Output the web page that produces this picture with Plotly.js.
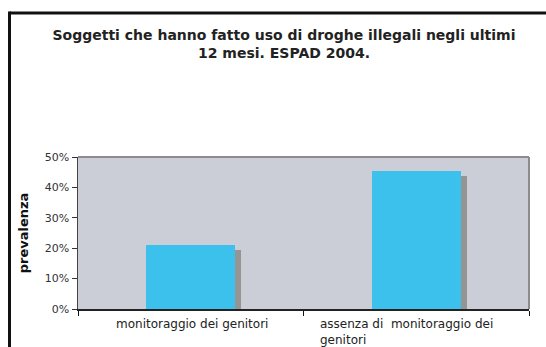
<!DOCTYPE html>
<html><head><meta charset="utf-8">
<script src="https://cdn.plot.ly/plotly-3.0.1.min.js"></script>
<style>html,body{margin:0;padding:0;background:#fff;}#c{width:546px;height:347px;}</style>
</head><body><div id="c"></div>
<script>
const categories = ["monitoraggio dei genitori", "assenza di  monitoraggio dei<br>genitori"];
const values = [0.211, 0.453];
const yTicks = [0, 0.1, 0.2, 0.3, 0.4, 0.5];
const titleText = "Soggetti che hanno fatto uso di droghe illegali negli ultimi<br>12 mesi. ESPAD 2004.";
const yTitle = "prevalenza";

const L = 78, R = 529, T = 157, B = 309;
const W = R - L, H = B - T;
const barW = 0.395;
const shDx = 6 / (W / 2);      // category units
const shDy = 5 / H * 0.5;      // value units
const xs = categories.map((_, i) => i);

const shadow = {
  type: 'bar', x: xs, y: values.map(v => v - shDy), base: 0,
  width: barW, offset: -barW / 2 + shDx,
  marker: {color: '#959595', line: {width: 0}}, hoverinfo: 'skip', showlegend: false
};
const bars = {
  type: 'bar', x: xs, y: values, width: barW, offset: -barW / 2,
  marker: {color: '#3CC0EC', line: {width: 0}}, showlegend: false
};

const font = 'DejaVu Sans, Verdana, sans-serif';
const px = p => (p - L) / W, py = p => (B - p) / H;

const annotations = categories.map((c, i) => ({
  x: i, xref: 'x', y: 0, yref: 'paper', yanchor: 'top', xanchor: 'center',
  yshift: -6, xshift: i === 1 ? -10 : 1, align: 'left', showarrow: false,
  text: c, font: {family: font, size: 12, color: '#222'}
}));

const layout = {
  width: 546, height: 347,
  margin: {l: L, r: 546 - R, t: T, b: 347 - B, pad: 0},
  paper_bgcolor: '#fff', plot_bgcolor: '#CBCED6',
  barmode: 'overlay', bargap: 0,
  title: {text: titleText, x: 284 / 546, xanchor: 'center', y: 1 - 40 / 347, yanchor: 'top',
          font: {family: font, size: 14, color: '#222', weight: 'bold'}},
  xaxis: {range: [-0.5, 1.5], tickmode: 'array', tickvals: [-0.5, 0.5, 1.5], ticktext: ['', '', ''],
          ticks: 'outside', ticklen: 5, tickcolor: '#111', tickwidth: 1,
          showline: true, linecolor: '#222', linewidth: 2, showgrid: false, zeroline: false, fixedrange: true},
  yaxis: {range: [0, 0.5], tickmode: 'array', tickvals: yTicks, tickformat: '.0%',
          ticks: 'outside', ticklen: 5, tickcolor: '#333', tickwidth: 1,
          showline: true, linecolor: '#444', linewidth: 1.5, showgrid: false, zeroline: false,
          tickfont: {family: font, size: 11, color: '#333'},
          title: {text: yTitle, standoff: 13, font: {family: font, size: 13, color: '#111', weight: 'bold'}}},
  annotations: annotations,
  shapes: [
    {type: 'line', xref: 'paper', yref: 'paper', x0: 0, x1: 1, y0: 1, y1: 1, line: {color: '#8C8C8C', width: 2}},
    {type: 'line', xref: 'paper', yref: 'paper', x0: 1, x1: 1, y0: 0, y1: 1, line: {color: '#8C8C8C', width: 2}},
    {type: 'line', xref: 'paper', yref: 'paper', x0: px(9.5), x1: px(560), y0: py(13), y1: py(13), line: {color: '#111', width: 3}},
    {type: 'line', xref: 'paper', yref: 'paper', x0: px(9.5), x1: px(9.5), y0: py(11.5), y1: py(360), line: {color: '#111', width: 3}}
  ]
};

Plotly.newPlot('c', [shadow, bars], layout, {displayModeBar: false, staticPlot: true});
</script></body></html>
